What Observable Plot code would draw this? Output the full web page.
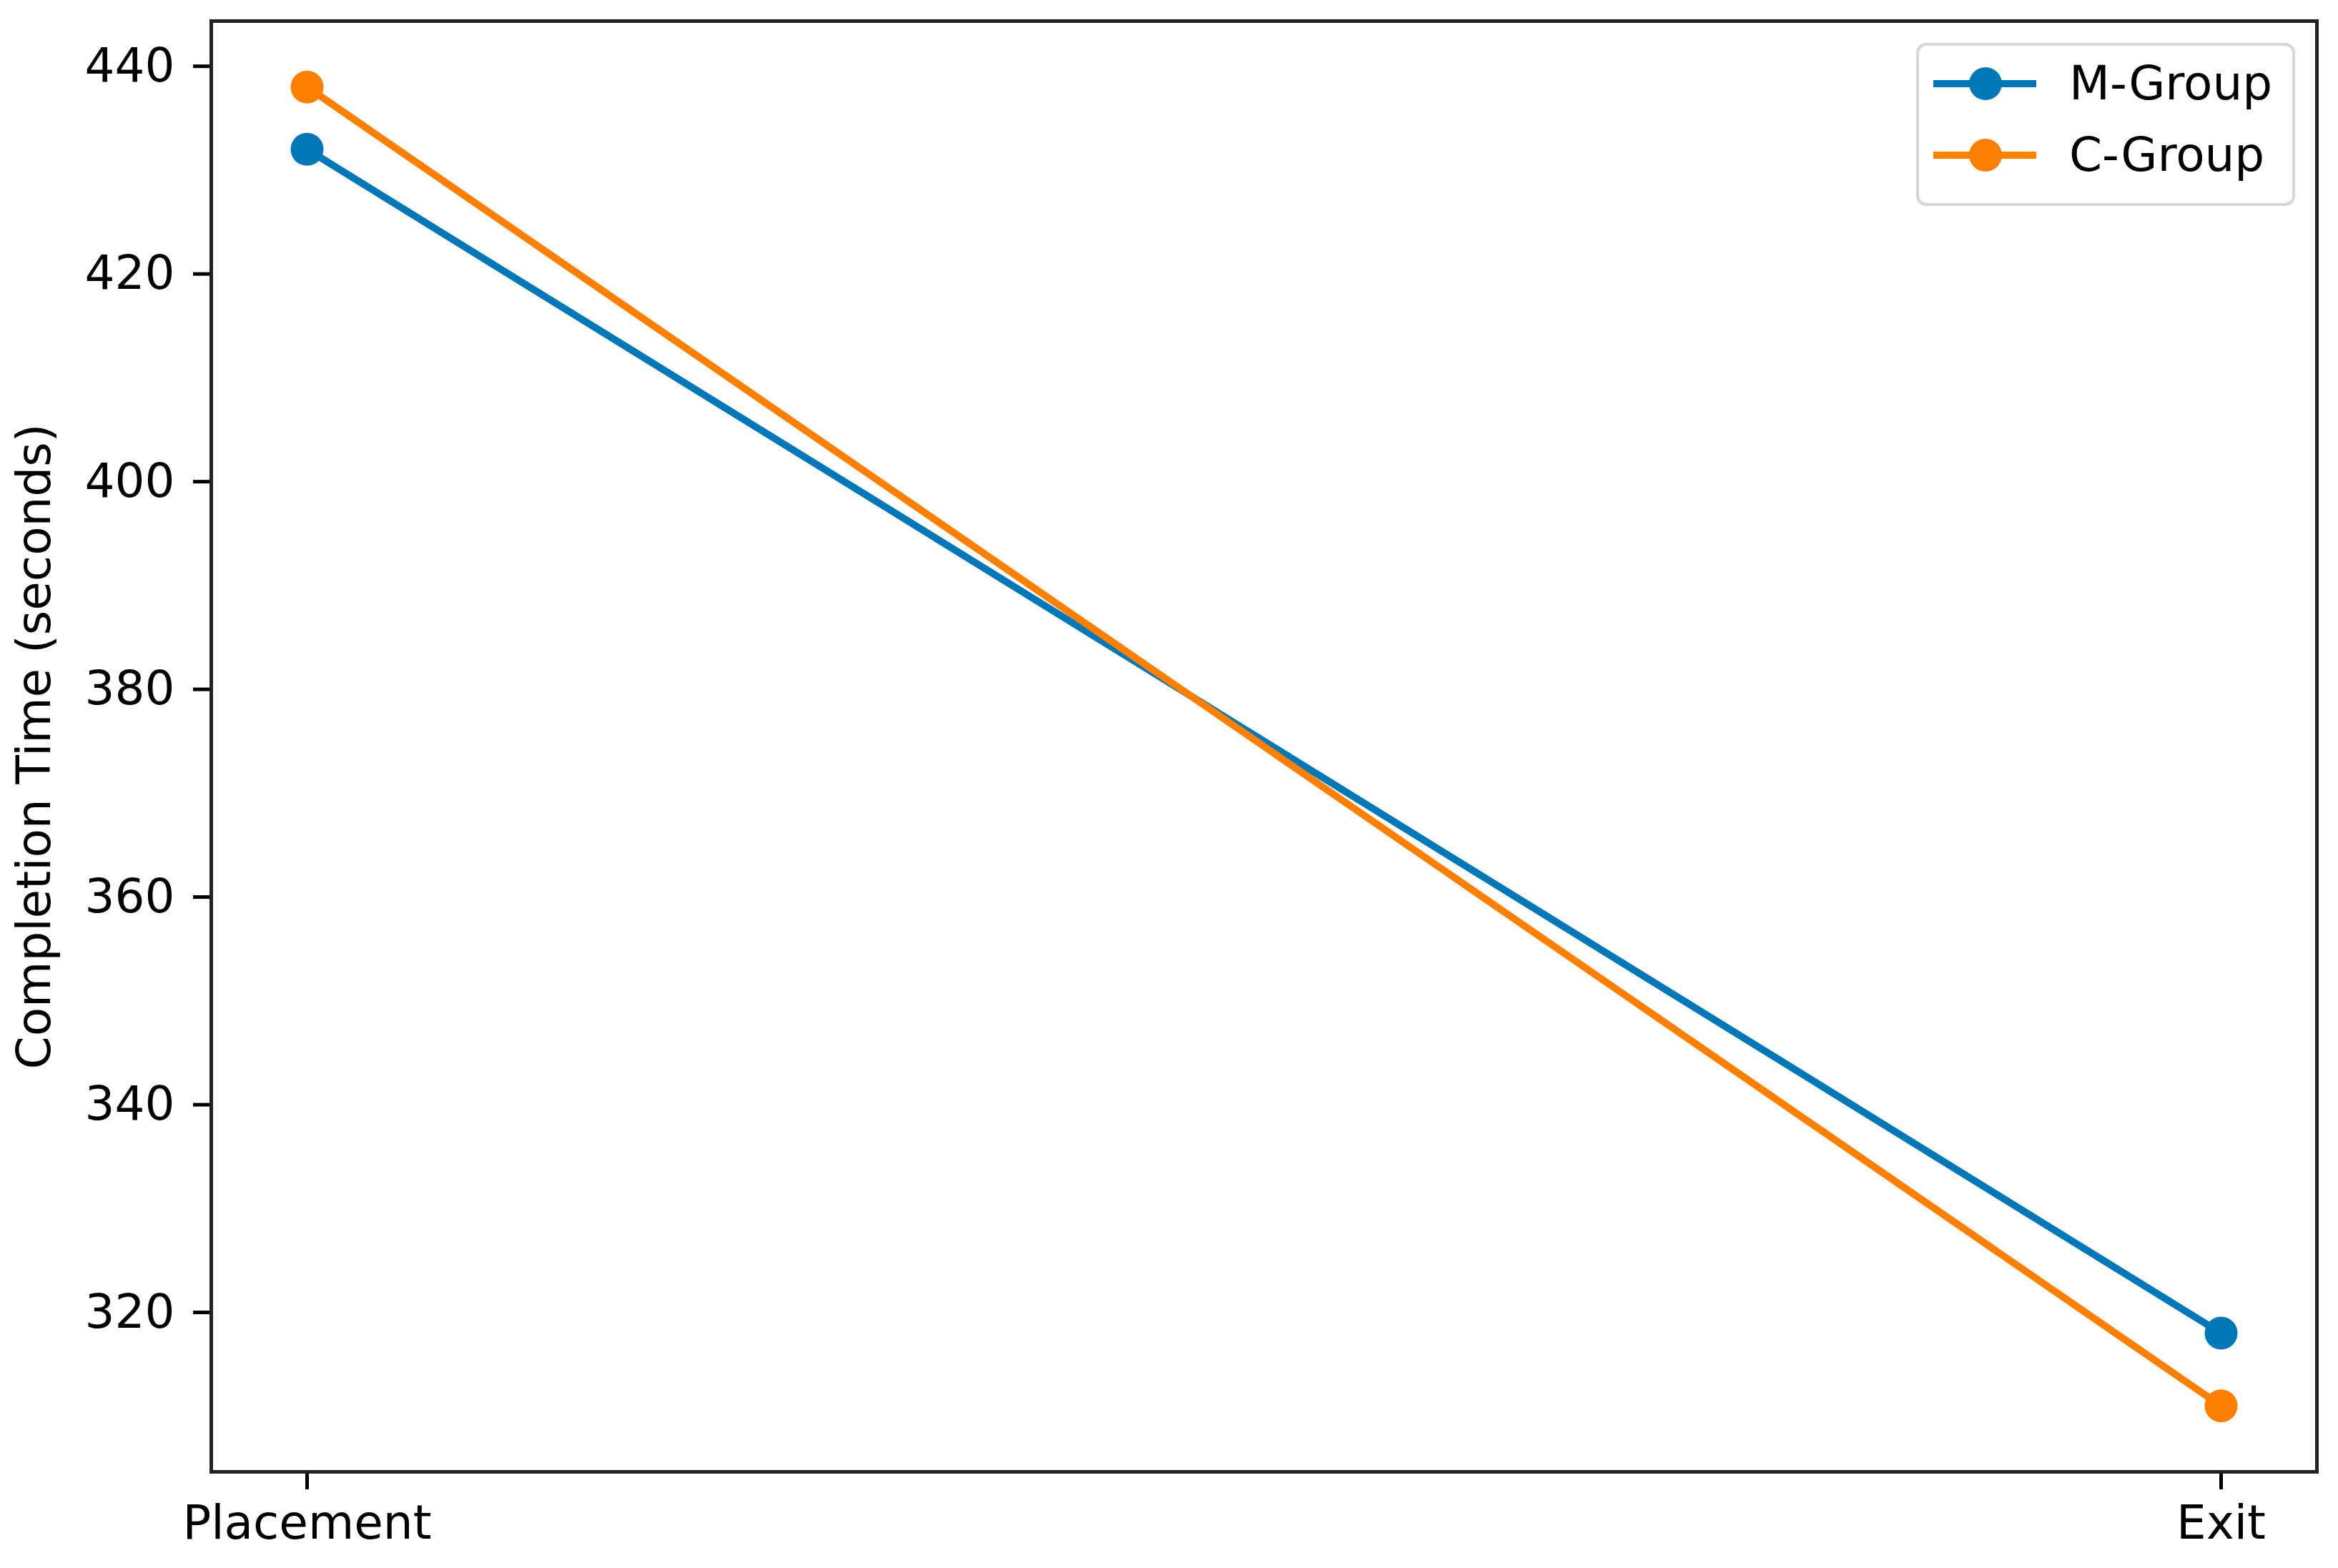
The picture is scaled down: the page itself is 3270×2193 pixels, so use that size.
<!DOCTYPE html>
<html>
<head>
<meta charset="utf-8">
<script src="https://cdn.jsdelivr.net/npm/d3@7"></script>
<script src="https://cdn.jsdelivr.net/npm/@observablehq/plot@0.6"></script>
<style>
  html, body { margin: 0; padding: 0; background: #fff; }
  #wrap { position: relative; width: 3270px; height: 2193px; font-family: "DejaVu Sans", sans-serif; }
  .legend { position: absolute; left: 2680px; top: 60px; width: 522px; height: 220px;
            border: 4px solid #d6d6d6; border-radius: 14px; background: rgba(255,255,255,0.8); box-sizing: content-box; }
  .row { position: absolute; left: 0; height: 0; }
  .row .ln { position: absolute; left: 20px; width: 144px; height: 10px; top: -5px; }
  .row .mk { position: absolute; left: 70px; width: 46px; height: 46px; top: -23px; border-radius: 50%; }
  .row .tx { position: absolute; left: 210px; top: -40px; font-size: 66px; line-height: 80px; color: #000; white-space: nowrap; }
</style>
</head>
<body>
<div id="wrap"></div>
<script>
const phases = ["Placement", "Exit"];
const groups = ["M-Group", "C-Group"];
const mGroup = [432, 318];
const cGroup = [438, 311];
const colors = ["#0077b6", "#ff7f00"];
const yTicks = [320, 340, 360, 380, 400, 420, 440];

const seriesValues = [mGroup, cGroup];
const data = groups.flatMap((g, gi) => phases.map((p, pi) => ({group: g, phase: p, value: seriesValues[gi][pi]})));

const fontSize = 66;
const chart = Plot.plot({
  width: 3270,
  height: 2193,
  marginLeft: 295,
  marginRight: 30,
  marginTop: 29,
  marginBottom: 135,
  style: {fontFamily: "DejaVu Sans, sans-serif", fontSize: fontSize + "px", color: "#000", background: "#fff"},
  x: {type: "point", domain: phases, padding: 0.05, align: 0.5},
  y: {domain: [304.65, 444.35]},
  color: {domain: groups, range: colors},
  marks: [
    Plot.axisX({tickSize: 25, tickPadding: 22, strokeWidth: 5, fontSize: fontSize, label: null}),
    Plot.axisY({ticks: yTicks, tickSize: 25, tickPadding: 26, strokeWidth: 5, fontSize: fontSize,
                label: "Completion Time (seconds)", labelAnchor: "center", labelArrow: "none", labelOffset: 272}),
    Plot.line(data, {x: "phase", y: "value", z: "group", stroke: "group", strokeWidth: 10}),
    Plot.dot(data, {x: "phase", y: "value", fill: "group", r: 23, stroke: null}),
    Plot.frame({stroke: "#222", strokeWidth: 5})
  ]
});

const wrap = document.getElementById("wrap");
wrap.appendChild(chart);

const legend = document.createElement("div");
legend.className = "legend";
groups.forEach((g, i) => {
  const row = document.createElement("div");
  row.className = "row";
  row.style.top = (53 + i * 100) + "px";
  row.innerHTML = `<div class="ln" style="background:${colors[i]}"></div><div class="mk" style="background:${colors[i]}"></div><div class="tx">${g}</div>`;
  legend.appendChild(row);
});
wrap.appendChild(legend);
</script>
</body>
</html>
